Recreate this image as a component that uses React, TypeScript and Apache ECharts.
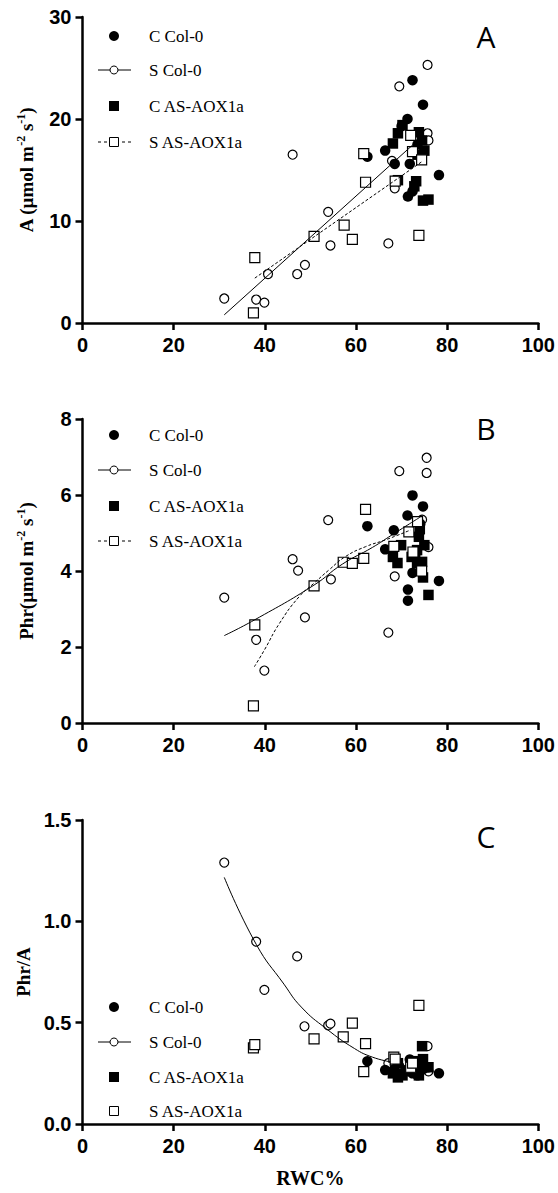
import React, { useEffect, useRef } from "react";
import * as echarts from "echarts";

// ---------- Panel A: net photosynthesis A (µmol m-2 s-1) vs RWC% ----------
const aCCol0: [number, number][] = [
  [62.5, 16.3], [66.4, 16.9], [68.5, 15.6], [70.0, 19.3], [71.3, 20.0], [71.8, 15.6],
  [72.4, 23.8], [72.4, 12.9], [71.4, 12.4], [74.7, 21.4], [78.2, 14.5], [73.5, 17.5],
];
const aSCol0: [number, number][] = [
  [31.1, 2.4], [38.1, 2.3], [39.9, 2.0], [40.7, 4.8], [46.1, 16.5], [47.1, 4.8],
  [48.8, 5.7], [53.9, 10.9], [54.4, 7.6], [67.1, 7.8], [67.9, 15.9], [68.5, 13.2],
  [69.5, 23.2], [75.7, 25.3], [75.7, 18.6], [75.9, 17.9],
];
const aCAox: [number, number][] = [
  [68.1, 17.6], [69.2, 18.6], [70.2, 19.4], [73.8, 18.7], [74.5, 17.9], [75.0, 16.9],
  [73.5, 16.5], [69.2, 14.0], [73.2, 13.9], [72.8, 13.4], [74.7, 12.0], [75.9, 12.1],
];
const aSAox: [number, number][] = [
  [37.5, 1.0], [37.8, 6.4], [50.8, 8.5], [57.4, 9.6], [59.2, 8.2], [61.7, 16.6],
  [62.1, 13.8], [68.6, 13.9], [72.0, 18.4], [72.4, 16.8], [73.8, 8.6], [74.4, 16.0],
];
const aFitSCol0: [number, number][] = [[31.1, 0.8], [72.8, 17.6]];
const aFitSAox: [number, number][] = [[37.8, 4.4], [74.4, 15.8]];

// ---------- Panel B: Phr (µmol m-2 s-1) vs RWC% ----------
const bCCol0: [number, number][] = [
  [62.5, 5.18], [66.4, 4.57], [68.3, 5.07], [71.3, 5.46], [72.4, 5.99], [74.7, 5.70],
  [74.1, 5.24], [72.4, 3.95], [71.4, 3.51], [71.4, 3.22], [78.2, 3.74], [73.0, 4.40],
];
const bSCol0: [number, number][] = [
  [31.1, 3.30], [38.1, 2.19], [39.9, 1.38], [46.1, 4.31], [47.3, 4.01], [48.8, 2.78],
  [53.9, 5.34], [54.5, 3.78], [67.1, 2.38], [68.5, 3.86], [69.5, 6.63], [75.5, 6.98],
  [75.5, 6.58], [74.5, 5.35], [75.9, 4.63],
];
const bCAox: [number, number][] = [
  [68.1, 4.37], [69.1, 4.21], [69.9, 4.68], [72.2, 4.37], [73.4, 4.55], [73.8, 4.90],
  [75.0, 4.68], [74.5, 4.24], [73.4, 4.20], [74.7, 3.83], [75.9, 3.37], [74.0, 5.10],
];
const bSAox: [number, number][] = [
  [37.5, 0.45], [37.8, 2.58], [50.8, 3.61], [57.2, 4.23], [59.2, 4.20], [61.7, 4.33],
  [62.1, 5.62], [68.3, 4.65], [71.6, 5.03], [74.4, 4.00], [73.5, 5.30], [72.5, 4.50],
];
const bFitSCol0: [number, number][] = [
  [31.1, 2.30], [37.7, 2.71], [50.8, 3.63], [57.0, 4.18], [63.6, 4.62], [67.9, 4.95], [74.1, 5.42],
];
const bFitSAox: [number, number][] = [
  [37.7, 1.48], [39.9, 1.92], [43.2, 2.62], [47.5, 3.32], [50.8, 3.68], [54.1, 4.03],
  [57.7, 4.38], [62.1, 4.64], [66.5, 4.82], [72.0, 5.08],
];

// ---------- Panel C: Phr/A vs RWC% ----------
const cCCol0: [number, number][] = [
  [62.5, 0.31], [66.4, 0.266], [68.4, 0.27], [70.0, 0.25], [71.3, 0.27], [71.8, 0.318],
  [72.4, 0.25], [72.6, 0.28], [71.4, 0.26], [74.7, 0.27], [78.2, 0.25], [73.5, 0.24],
];
const cSCol0: [number, number][] = [
  [31.1, 1.29], [38.1, 0.90], [39.9, 0.662], [47.1, 0.827], [48.7, 0.482], [53.9, 0.487],
  [54.4, 0.495], [75.7, 0.384], [67.1, 0.30], [68.5, 0.29], [69.5, 0.285], [75.7, 0.27], [75.9, 0.26],
];
const cCAox: [number, number][] = [
  [68.1, 0.25], [69.2, 0.23], [70.2, 0.24], [73.8, 0.24], [74.5, 0.384], [75.0, 0.28],
  [73.5, 0.26], [69.2, 0.30], [73.2, 0.31], [72.8, 0.29], [74.7, 0.32], [75.9, 0.28],
];
const cSAox: [number, number][] = [
  [37.5, 0.376], [37.8, 0.392], [50.8, 0.42], [57.2, 0.43], [59.2, 0.498], [61.7, 0.258],
  [62.1, 0.397], [73.8, 0.585], [68.3, 0.33], [68.6, 0.32], [72.0, 0.28], [72.4, 0.30],
];
const cFitSCol0: [number, number][] = [
  [31.1, 1.217], [38.1, 0.887], [44.2, 0.69], [48.0, 0.577], [53.5, 0.47],
  [59.7, 0.372], [63.6, 0.33], [67.5, 0.307],
];

const groupNames = ["C Col-0", "S Col-0", "C AS-AOX1a", "S AS-AOX1a"];
const panelLetters = ["A", "B", "C"];
const yMax = [30, 8, 1.5];
const yInterval = [10, 2, 0.5];

const GRIDS = [
  { top: 17, height: 306 },
  { top: 419, height: 304 },
  { top: 820, height: 304 },
];
const LEFT = 82.5;
const WIDTH = 457.5;

const SERIF = '"Liberation Serif", "Times New Roman", serif';
const SANS = '"Liberation Sans", Arial, sans-serif';

export default function App() {
  const ref = useRef<HTMLDivElement>(null);
  useEffect(() => {
    if (!ref.current) return;
    const chart = echarts.init(ref.current, undefined, { renderer: "svg" });

    const axisLine = { show: true, onZero: false, lineStyle: { color: "#000", width: 2.5 } };
    const axisTick = { show: true, length: 7, lineStyle: { color: "#000", width: 2.5 } };
    const tickLabel = { color: "#000", fontFamily: SANS, fontWeight: "bold" as const, fontSize: 20 };

    const rich = {
      t: { fontFamily: SERIF, fontWeight: "bold", fontSize: 19, lineHeight: 23, color: "#000" },
      s: { fontFamily: SERIF, fontWeight: "bold", fontSize: 12, lineHeight: 12, verticalAlign: "top", color: "#000" },
    };
    const yNames = [
      "{t|A (µmol m}{s|-2}{t| s}{s|-1}{t|)}",
      "{t|Phr(µmol m}{s|-2}{t| s}{s|-1}{t|)}",
      "{t|Phr/A}",
    ];

    const grid = GRIDS.map((g) => ({ left: LEFT, width: WIDTH, top: g.top, height: g.height }));
    const xAxis = [0, 1, 2].map((i) => ({
      type: "value",
      gridIndex: i,
      min: 0,
      max: 100,
      interval: 20,
      axisLine,
      axisTick,
      splitLine: { show: false },
      axisLabel: { ...tickLabel, margin: 12 },
      ...(i === 2
        ? {
            name: "RWC%",
            nameLocation: "middle",
            nameGap: 44,
            nameTextStyle: { fontFamily: SERIF, fontWeight: "bold", fontSize: 20, color: "#000" },
          }
        : {}),
    }));
    const yAxis = [0, 1, 2].map((i) => ({
      type: "value",
      gridIndex: i,
      min: 0,
      max: yMax[i],
      interval: yInterval[i],
      axisLine,
      axisTick,
      splitLine: { show: false },
      axisLabel: {
        ...tickLabel,
        margin: 11,
        formatter: (v: number) => (i === 2 ? v.toFixed(1) : String(v)),
      },
      name: yNames[i],
      nameLocation: "middle",
      nameRotate: 90,
      nameGap: 45,
      nameTextStyle: { rich },
    }));

    const filled = (sym: string, size: number) => ({
      symbol: sym,
      symbolSize: size,
      itemStyle: { color: "#000", borderColor: "#000", borderWidth: 0, opacity: 1 },
    });
    const open = (sym: string, size: number) => ({
      symbol: sym,
      symbolSize: size,
      itemStyle: { color: "#fff", borderColor: "#000", borderWidth: 1.2, opacity: 1 },
    });

    const panels = [
      { cc: aCCol0, sc: aSCol0, ca: aCAox, sa: aSAox },
      { cc: bCCol0, sc: bSCol0, ca: bCAox, sa: bSAox },
      { cc: cCCol0, sc: cSCol0, ca: cCAox, sa: cSAox },
    ];
    const series: any[] = [];
    panels.forEach((p, i) => {
      const common = { type: "scatter", xAxisIndex: i, yAxisIndex: i, silent: true };
      series.push({ ...common, name: groupNames[1], data: p.sc, ...open("circle", 9), z: 3 });
      series.push({ ...common, name: groupNames[0], data: p.cc, ...filled("circle", 10.5), z: 4 });
      series.push({ ...common, name: groupNames[2], data: p.ca, ...filled("rect", 10.5), z: 4 });
      series.push({ ...common, name: groupNames[3], data: p.sa, ...open("rect", 10), z: 5 });
    });
    const fitLine = (i: number, data: [number, number][], dashed: boolean, smooth: boolean) => ({
      type: "line",
      xAxisIndex: i,
      yAxisIndex: i,
      data,
      smooth,
      symbol: "none",
      showSymbol: false,
      silent: true,
      z: 6,
      lineStyle: { color: "#000", width: 1, type: dashed ? [3, 2] : "solid" },
    });
    series.push(fitLine(0, aFitSCol0, false, false));
    series.push(fitLine(0, aFitSAox, true, false));
    series.push(fitLine(1, bFitSCol0, false, true));
    series.push(fitLine(1, bFitSAox, true, true));
    series.push(fitLine(2, cFitSCol0, false, true));

    // legends (drawn as graphics)
    const legendYs = [
      [36, 70, 106, 142],
      [435, 470, 506, 541],
      [1007, 1042, 1077, 1111],
    ];
    const MX = 114;
    const graphic: any[] = [];
    legendYs.forEach((ys, i) => {
      graphic.push({ type: "circle", shape: { cx: MX, cy: ys[0], r: 5 }, style: { fill: "#000" } });
      graphic.push({ type: "line", shape: { x1: 98, y1: ys[1], x2: 131, y2: ys[1] }, style: { stroke: "#000", lineWidth: 1 } });
      graphic.push({ type: "circle", shape: { cx: MX, cy: ys[1], r: 4 }, style: { fill: "#fff", stroke: "#000", lineWidth: 1 } });
      graphic.push({ type: "rect", shape: { x: MX - 5, y: ys[2] - 5, width: 10, height: 10 }, style: { fill: "#000" } });
      if (i < 2) {
        graphic.push({ type: "line", shape: { x1: 98, y1: ys[3], x2: 131, y2: ys[3] }, style: { stroke: "#000", lineWidth: 1, lineDash: [3, 3] } });
      }
      graphic.push({ type: "rect", shape: { x: MX - 4.5, y: ys[3] - 4.5, width: 9, height: 9 }, style: { fill: "#fff", stroke: "#000", lineWidth: 1 } });
      ys.forEach((y, k) => {
        graphic.push({
          type: "text",
          x: 149,
          y,
          style: { text: groupNames[k], fontFamily: SERIF, fontSize: 17, fill: "#000", align: "left", verticalAlign: "middle" },
        });
      });
    });
    const letterYs = [36, 428, 836];
    letterYs.forEach((y, i) => {
      graphic.push({
        type: "text",
        x: 486,
        y,
        style: { text: panelLetters[i], fontFamily: '"Open Sans", Lato, sans-serif', fontSize: 30, fill: "#000", align: "center", verticalAlign: "middle" },
      });
    });

    chart.setOption({
      animation: false,
      backgroundColor: "#fff",
      grid,
      xAxis,
      yAxis,
      series,
      graphic,
    });
    return () => chart.dispose();
  }, []);
  return (
    <div
      ref={ref}
      style={{ position: "absolute", left: 0, top: 0, width: 558, height: 1193, background: "#fff" }}
    />
  );
}
